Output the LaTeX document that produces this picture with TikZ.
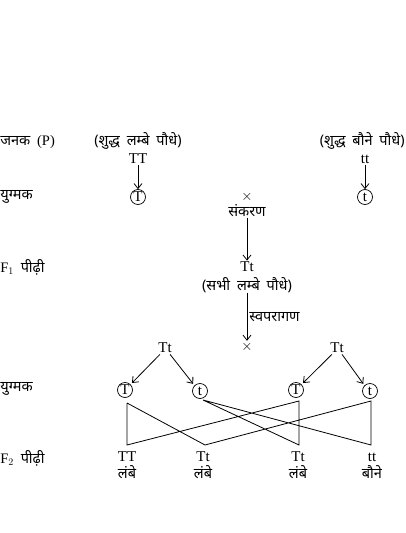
\documentclass[tikz,border=0pt]{standalone}
\usepackage{fontspec}
\setmainfont{Liberation Serif}
\newfontfamily\hindi[Script=Devanagari, WordSpace = 1.8]{Noto Sans}
\usetikzlibrary{positioning, arrows.meta}

\begin{document}
\begin{tikzpicture}[> = {Straight Barb[length = 5pt, width = 8pt]}, x = 1pt, y = -1pt,
	line width = 0.8pt, font = \fontsize{15}{17}\selectfont,
	every node/.style = {inner sep = 1pt},
	hin/.style = {font = \hindi\fontsize{14.5}{16}\selectfont, inner sep = 0pt},
	side/.style = {hin, anchor = west},
	gamete/.style = {circle, draw, line width = 0.7pt, inner sep = 0pt, minimum size = 15pt, font = \fontsize{15}{16}\selectfont}]

	\useasboundingbox (0, 0) rectangle (405, 533);

	% Left column labels
	
	\node [side] (janak) at (0, 142) {जनक {\rmfamily (P)}};
	\node [side] (yugmak1) at (0, 197) {युग्मक};
	\node [side] (pidhi1) at (0, 267) {{\rmfamily F$_1$} पीढ़ी};
	\node [side] (yugmak2) at (0, 389) {युग्मक};
	\node [side] (pidhi2) at (0, 458) {{\rmfamily F$_2$} पीढ़ी};
	
	% Parents and their gametes
	
	\node [hin] (tall) at (138, 141) {(शुद्ध लम्बे पौधे)};
	\node (TT) at (138, 159) {TT};
	\node [gamete] (gT) at (138, 197) {T};
	\draw [->] (TT.south) -- (gT.north);
	
	\node [hin, anchor = east] (dwarf) at (405, 141) {(शुद्ध बौने पौधे)};
	\node (tt) at (365, 159) {tt};
	\node [gamete] (gt) at (365, 197) {t};
	\draw [->] (tt.south) -- (gt.north);
	
	% Cross and F1
	
	\node (cross) at (247, 197) {$\times$};
	\node [hin] (sankaran) at (247, 211) {संकरण};
	\node (F1) at (247, 267) {Tt};
	\node [hin] (alltall) at (247, 285) {(सभी लम्बे पौधे)};
	\draw [->] (sankaran.south) -- (F1.north);
	
	% Selfing
	
	\node (self) at (247, 347) {$\times$};
	\draw [->] (alltall.south) -- node [midway, right = 2pt, hin] (selfing) {स्वपरागण} (self.north);
	
	\node (TtL) at (165, 348) {Tt};
	\node (TtR) at (337, 348) {Tt};
	
	\node [gamete] (aT) at (125, 390) {T};
	\node [gamete] (at) at (200, 391) {t};
	\node [gamete] (bT) at (296, 390) {T};
	\node [gamete] (bt) at (370, 391) {t};
	
	\draw [->, shorten > = 2pt] ([xshift = 3pt] TtL.south west) -- (aT.north east);
	\draw [->, shorten > = 2pt] ([xshift = -3pt] TtL.south east) -- (at.north west);
	\draw [->, shorten > = 2pt] ([xshift = 3pt] TtR.south west) -- (bT.north east);
	\draw [->, shorten > = 2pt] ([xshift = -3pt] TtR.south east) -- (bt.north west);
	
	% F2 offspring
	
	\node (o1) at (127, 457) {TT};
	\node (o2) at (203, 457) {Tt};
	\node (o3) at (298, 457) {Tt};
	\node (o4) at (372, 457) {tt};
	
	\node [hin] (p1) at (127, 472) {लंबे};
	\node [hin] (p2) at (203, 472) {लंबे};
	\node [hin] (p3) at (298, 472) {लंबे};
	\node [hin] (p4) at (372, 472) {बौने};
	
	\coordinate (j1) at (127, 445);
	\coordinate (j2) at (205, 445);
	\coordinate (j3) at (299, 445);
	\coordinate (j4) at (371, 445);
	
	\coordinate (aTs) at (127, 403);
	\coordinate (ats) at (203, 400);
	\coordinate (bTs) at (299, 401);
	\coordinate (bts) at (371, 401);
	
	% Fertilization lines
	
	\draw (aTs) -- (j1) -- (bTs) -- (j3) -- (ats) -- (j4) -- (bts) -- (j2) -- (aTs);
	
\end{tikzpicture}
\end{document}
